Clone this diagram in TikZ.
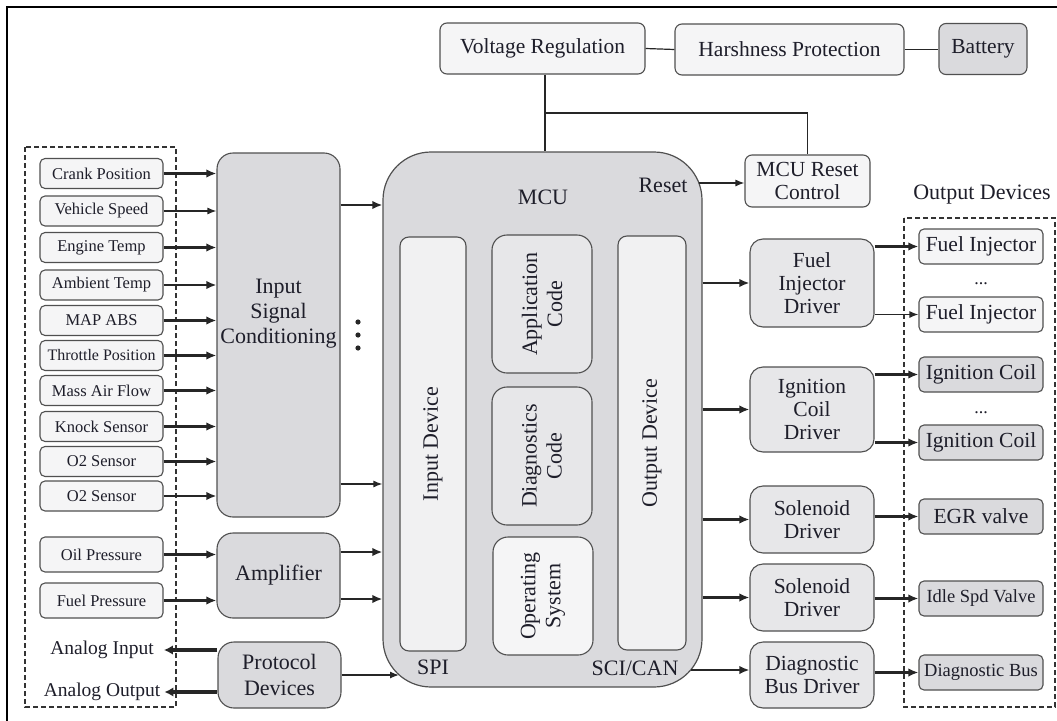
\documentclass[tikz,border=0pt]{standalone}
\usepackage{fontspec}
\setmainfont{Liberation Serif}
\usetikzlibrary{arrows.meta,calc}
\definecolor{bd}{HTML}{505050}
\definecolor{txt}{HTML}{1E1E2A}
\definecolor{lightf}{HTML}{F5F5F6}
\definecolor{midf}{HTML}{E7E7E9}
\definecolor{darkf}{HTML}{DADADD}
\definecolor{devf}{HTML}{F1F1F2}
\begin{document}
\begin{tikzpicture}[x=1pt,y=-1pt,
  every node/.style={text=txt, inner sep=0pt, align=center},
  box/.style={draw=bd, line width=1.1pt, rounded corners=5pt},
  sens/.style={box, fill=lightf, minimum width=123pt, minimum height=30pt, font=\fontsize{16.5}{18}\selectfont},
  bigbox/.style={box, fill=darkf, rounded corners=16pt, minimum width=123pt},
  drv/.style={box, fill=midf, rounded corners=13pt, minimum width=124pt, font=\fontsize{21.5}{23}\selectfont},
  outl/.style={box, fill=lightf, minimum width=124pt, minimum height=35pt, font=\fontsize{21.5}{23}\selectfont},
  outd/.style={box, fill=darkf, minimum width=124pt, minimum height=35pt, font=\fontsize{21.5}{23}\selectfont},
  topbox/.style={box, fill=lightf, rounded corners=7pt, minimum height=51pt, font=\fontsize{21.5}{23}\selectfont},
  lbl/.style={font=\fontsize{22}{24}\selectfont},
  thk/.style={draw=black!85, line width=2.5pt, -{Latex[length=10pt,width=8.5pt]}},
  thn/.style={draw=black!85, line width=1.3pt, -{Latex[length=9pt,width=7pt]}},
  vthk/.style={draw=black!85, line width=3.6pt, -{Latex[length=9pt,width=9.5pt]}},
  ln/.style={draw=black!85, line width=1.2pt},
  grpbox/.style={draw=black!80, line width=1.1pt, dash pattern=on 5pt off 3pt}
]
\useasboundingbox (0,0) rectangle (1057,720);
\fill[white] (0,0) rectangle (1057,720);
% frame
\draw[line width=1.6pt] (7,730) -- (7,7) -- (1070,7);

% dashed groups
\draw[grpbox] (25,147) rectangle (176,707);
\draw[grpbox] (904,218) rectangle (1055,707);

% top boxes
\node[topbox, minimum width=205pt] (vr) at (542.5,48.5) {Voltage Regulation};
\node[topbox, minimum width=229pt] (hp) at (789.5,49.5) {Harshness Protection};
\node[topbox, fill=darkf, minimum width=88pt] (bat) at (983,49) {Battery};
\draw[ln] (vr.east) -- (hp.west);
\draw[ln] (hp.east) -- (hp.east -| bat.west);

% MCU reset control
\node[topbox, minimum width=125pt, minimum height=52pt, font=\fontsize{21.5}{23}\selectfont] (mrc) at (807.5,181) {MCU Reset\\Control};

% sensors
\node[sens] (s1) at (101.5,173.5) {Crank Position};
\node[sens] (s2) at (101.5,211) {Vehicle Speed};
\node[sens] (s3) at (101.5,247.5) {Engine Temp};
\node[sens] (s4) at (101.5,285) {Ambient Temp};
\node[sens] (s5) at (101.5,320.5) {MAP ABS};
\node[sens, font=\fontsize{16}{18}\selectfont] (s6) at (101.5,355.5) {Throttle Position};
\node[sens] (s7) at (101.5,390.5) {Mass Air Flow};
\node[sens] (s8) at (101.5,426.5) {Knock Sensor};
\node[sens] (s9) at (101.5,461.5) {O2 Sensor};
\node[sens] (s10) at (101.5,496) {O2 Sensor};
\node[sens, minimum height=35pt] (oil) at (101.5,554.5) {Oil Pressure};
\node[sens, minimum height=35pt] (fp) at (101.5,600.5) {Fuel Pressure};

% conditioning blocks
\node[bigbox, minimum height=364pt] (isc) at (278.5,335) {};
\node[lbl, font=\fontsize{22}{25}\selectfont] (isct) at (278.5,314) {Input\\Signal\\Conditioning};
\node[bigbox, minimum height=85pt, font=\fontsize{22}{24}\selectfont] (amp) at (278.5,575.5) {Amplifier};
\node[bigbox, minimum height=66pt, font=\fontsize{22}{26}\selectfont] (prot) at (279.5,675) {Protocol\\Devices};

% analog
\node[font=\fontsize{19.5}{21}\selectfont] (ai) at (102,650) {Analog Input};
\node[font=\fontsize{19.5}{21}\selectfont] (ao) at (102,692) {Analog Output};

% MCU
\node[draw=bd, line width=1.2pt, fill=darkf, rounded corners=48pt, minimum width=319pt, minimum height=535pt] (mcu) at (542.5,419.5) {};
\node[lbl] (mcut) at (543,197) {MCU};
\node[lbl] (rst) at (663,185) {Reset};
\node[lbl] (spi) at (433,667) {SPI};
\node[lbl] (sci) at (635,668) {SCI/CAN};
\node[box, fill=devf, rounded corners=9pt, minimum width=66pt, minimum height=414pt] (ind) at (433,444) {};
\node[lbl, rotate=90] at (ind.center) {Input Device};
\node[box, fill=devf, rounded corners=9pt, minimum width=68pt, minimum height=414pt] (outd) at (652,443) {};
\node[lbl, rotate=90] at (outd.center) {Output Device};
\node[box, fill=midf, rounded corners=15pt, minimum width=100pt, minimum height=138pt] (app) at (542,304) {};
\node[lbl, rotate=90, font=\fontsize{22}{25}\selectfont] at (app.center) {Application\\Code};
\node[box, fill=midf, rounded corners=15pt, minimum width=100pt, minimum height=138pt] (diag) at (542,456) {};
\node[lbl, rotate=90, font=\fontsize{22}{25}\selectfont] at (diag.center) {Diagnostics\\Code};
\node[box, fill=lightf, rounded corners=15pt, minimum width=100pt, minimum height=118pt] (os) at (543,596) {};
\node[lbl, rotate=90, font=\fontsize{22}{25}\selectfont] at (os.center) {Operating\\System};

% drivers
\node[drv, minimum height=88pt] (fid) at (812,283) {Fuel\\Injector\\Driver};
\node[drv, minimum height=85pt] (icd) at (812,409.5) {Ignition\\Coil\\Driver};
\node[drv, minimum height=67pt] (sd1) at (812,519.5) {Solenoid\\Driver};
\node[drv, minimum height=67pt] (sd2) at (812,597.5) {Solenoid\\Driver};
\node[drv, minimum height=66pt] (dbd) at (812,675) {Diagnostic\\Bus Driver};

% output devices
\node[lbl] (odt) at (982,195) {Output Devices};
\node[outl] (fi1) at (981,246.5) {Fuel Injector};
\node[outl] (fi2) at (981,314.5) {Fuel Injector};
\node[outd] (ic1) at (981,374.5) {Ignition Coil};
\node[outd] (ic2) at (981,442.5) {Ignition Coil};
\node[outd] (egr) at (981,516.5) {EGR valve};
\node[outd, font=\fontsize{18.5}{20}\selectfont] (idle) at (981,598.5) {Idle Spd Valve};
\node[outd, font=\fontsize{18.5}{20}\selectfont] (dbus) at (981,672.5) {Diagnostic Bus};
\node[anchor=base, font=\fontsize{18}{20}\selectfont] (dots1) at (981,284) {...};
\node[anchor=base, font=\fontsize{18}{20}\selectfont] (dots2) at (981,413) {...};

% power connections
\coordinate (j) at (545,113);
\draw[ln] (vr.south -| j) -- (j |- mcu.north);
\draw[ln] (j) -| (mrc.north);

% reset arrow
\coordinate (rsto) at (699,183);
\draw[thn] (rsto) -- (rsto -| mrc.west);

% sensor arrows
\draw[thk] (s1.east) -- (s1.east -| isc.west);
\draw[thn] (s2.east) -- (s2.east -| isc.west);
\foreach \s in {s3,s4,s5,s6,s7,s8,s9,s10} {
  \draw[thk] (\s.east) -- (\s.east -| isc.west);
}
\draw[thk] (oil.east) -- (oil.east -| amp.west);
\draw[thk] (fp.east) -- (fp.east -| amp.west);

% dots
\fill[black!85] (358,322) circle (2.6pt) (358,335) circle (2.6pt) (358,348) circle (2.6pt);

% into MCU
\coordinate (y1) at (0,205);
\coordinate (y2) at (0,484);
\coordinate (y3) at (0,552);
\coordinate (y4) at (0,599);
\draw[thk] (isc.east |- y1) -- (mcu.west |- y1);
\draw[thn] (isc.east |- y2) -- (mcu.west |- y2);
\draw[thk] (amp.east |- y3) -- (mcu.west |- y3);
\draw[thk] (amp.east |- y4) -- (mcu.west |- y4);
\coordinate (spiin) at (399,675);
\draw[thn] (prot.east |- spiin) -- (spiin);

% analog arrows
\draw[vthk] (prot.west |- ai) -- ([xshift=10pt]ai.east);
\draw[vthk] (prot.west |- ao) -- ([xshift=4pt]ao.east);

% out of MCU
\draw[thk] (mcu.east |- fid.west) -- (fid.west);
\draw[thk] (mcu.east |- icd.west) -- (icd.west);
\draw[thk] (mcu.east |- sd1.west) -- (sd1.west);
\draw[thk] (mcu.east |- sd2.west) -- (sd2.west);
\coordinate (scio) at (691,670);
\draw[thk] (scio) -- (scio -| dbd.west);

% drivers to outputs
\draw[thk] (fid.east |- fi1.west) -- (fi1.west);
\draw[thn] (fid.east |- fi2.west) -- (fi2.west);
\draw[thk] (icd.east |- ic1.west) -- (ic1.west);
\draw[thk] (icd.east |- ic2.west) -- (ic2.west);
\draw[thk] (sd1.east |- egr.west) -- (egr.west);
\draw[thk] (sd2.east |- idle.west) -- (idle.west);
\draw[thk] (dbd.east |- dbus.west) -- (dbus.west);
\end{tikzpicture}
\end{document}
